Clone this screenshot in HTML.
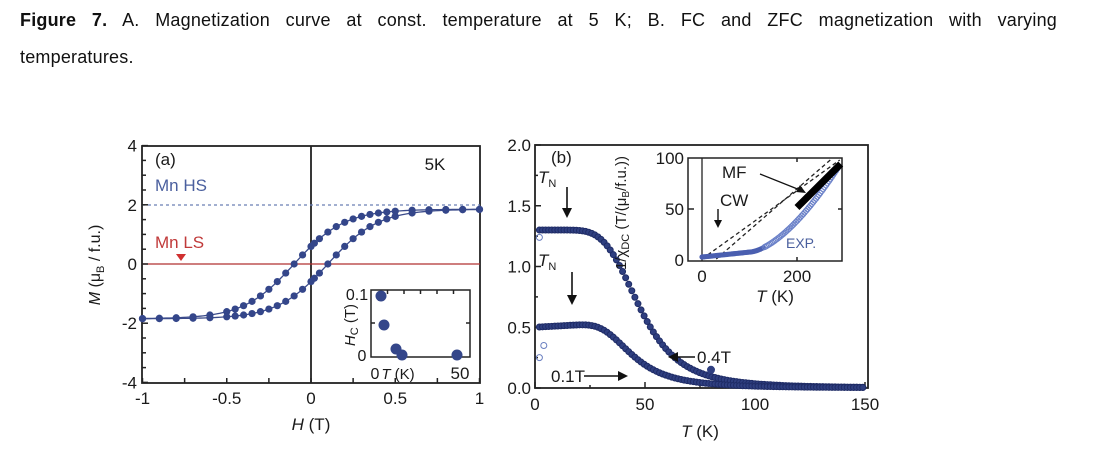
<!DOCTYPE html>
<html><head><meta charset="utf-8"><style>
body{margin:0;width:1101px;height:467px;background:#fff;overflow:hidden;position:relative;font-family:"Liberation Sans",sans-serif}
.cap{position:absolute;left:20px;width:1037px;font-size:18px;color:#111;letter-spacing:0.2px}
.l1{top:10px;text-align:justify;text-align-last:justify}
.l2{top:47px}
svg{position:absolute;left:0;top:0}
svg text{font-family:"Liberation Sans",sans-serif;fill:#1a1a1a}
</style></head><body>
<div class="cap l1"><b>Figure 7.</b> A. Magnetization curve at const. temperature at 5 K; B. FC and ZFC magnetization with varying</div>
<div class="cap l2">temperatures.</div>
<svg width="1101" height="467" id="s">
<g id="g"></g>
</svg>
<script>
const g=document.getElementById('g');let h='';
function L(x1,y1,x2,y2,c,w,d){h+=`<line x1="${x1}" y1="${y1}" x2="${x2}" y2="${y2}" stroke="${c||'#222'}" stroke-width="${w||1.5}" ${d?`stroke-dasharray="${d}"`:''}/>`}
function T(x,y,t,s,a,c,st){h+=`<text x="${x}" y="${y}" font-size="${s||16}" text-anchor="${a||'middle'}" ${c?`style="fill:${c}"`:''} ${st||''}>${t}</text>`}
function C(x,y,r,f,s){h+=`<circle cx="${x}" cy="${y}" r="${r}" fill="${f}" stroke="${s||'none'}"/>`}
// Panel a
const ax=H=>311+H*168.5, ay=M=>264-M*29.6;
h+=`<rect x="142" y="146" width="338" height="237" fill="none" stroke="#222" stroke-width="1.8"/>`;
L(311,146,311,383,'#222',1.8);
L(142,264,480,264,'#b03030',1.3);
L(142,205,480,205,'#6a7fb5',1.2,'3,3');
for(let v=-4;v<=4;v+=0.5){L(142,ay(v),v%2==0?148:146,ay(v))}
for(let v=-1;v<=1;v+=0.25){L(ax(v),383,ax(v),378)}
[[4,'4'],[2,'2'],[0,'0'],[-2,'-2'],[-4,'-4']].forEach(([v,t])=>T(137,ay(v)+6,t,17,'end'));
[[-1,'-1'],[-0.5,'-0.5'],[0,'0'],[0.5,'0.5'],[1,'1']].forEach(([v,t])=>T(ax(v),404,t,17));
T(311,430,'<tspan font-style="italic">H</tspan> (T)',17);
h+=`<text transform="translate(100,265) rotate(-90)" font-size="16" text-anchor="middle"><tspan font-style="italic">M</tspan> (μ<tspan font-size="11" dy="4">B</tspan><tspan dy="-4"> / f.u.)</tspan></text>`;
T(155,165,'(a)',17,'start');T(435,170,'5K',17,'middle');
T(155,191,'Mn HS',17,'start','#4a5f9e');T(155,248,'Mn LS',17,'start','#c03a3a');
h+=`<polygon points="176,254 186,254 181,261" fill="#d03030"/>`;
let up='',dn='';
for(let H=-1;H<=1.001;H+=0.02){up+=`${ax(H)},${ay(1.85*Math.tanh((H+0.1)/0.3))} `;dn+=`${ax(H)},${ay(1.85*Math.tanh((H-0.1)/0.3))} `}
h+=`<polyline points="${up}" fill="none" stroke="#3a4a8a" stroke-width="1.3"/><polyline points="${dn}" fill="none" stroke="#3a4a8a" stroke-width="1.3"/>`;
const hs=[-1,-0.9,-0.8,-0.7,-0.6,-0.5,-0.45,-0.4,-0.35,-0.3,-0.25,-0.2,-0.15,-0.1,-0.05,0,0.02,0.05,0.1,0.15,0.2,0.25,0.3,0.35,0.4,0.45,0.5,0.6,0.7,0.8,0.9,1];
hs.forEach(H=>{C(ax(H),ay(1.85*Math.tanh((H+0.1)/0.3)),3.6,'#34468a');C(ax(H),ay(1.85*Math.tanh((H-0.1)/0.3)),3.6,'#34468a')});
// inset a
h+=`<rect x="371" y="290" width="99" height="67" fill="#fff" stroke="#222" stroke-width="1.5"/>`;
for(let i=1;i<6;i++){L(371+i*16.5,290,371+i*16.5,294)}L(466,323,470,323);L(371,323,375,323);
T(357,300,'0.1',16);T(362,361,'0',16);T(375,379,'0',16);T(398,379,'<tspan font-style="italic">T</tspan> (K)',15);T(460,379,'50',17);
h+=`<text transform="translate(355,325) rotate(-90)" font-size="15" text-anchor="middle"><tspan font-style="italic">H</tspan><tspan font-size="11" dy="3">C</tspan><tspan dy="-3"> (T)</tspan></text>`;
[[381,296],[384,325],[396,349],[402,355],[457,355]].forEach(([x,y])=>C(x,y,5.5,'#34468a'));
// Panel b
const bx=t=>535+t*2.2, by=v=>388-v*121.5;
h+=`<rect x="535" y="145" width="333" height="243" fill="none" stroke="#222" stroke-width="1.8"/>`;
for(let v=0;v<=2;v+=0.25){L(535,by(v),v%0.5==0?541:538,by(v))}
for(let t=0;t<=150;t+=25){L(bx(t),388,bx(t),t%50==0?382:385)}
[[2,'2.0'],[1.5,'1.5'],[1,'1.0'],[0.5,'0.5'],[0,'0.0']].forEach(([v,t])=>T(531,by(v)+6,t,17,'end'));
[[0,'0'],[50,'50'],[100,'100'],[150,'150']].forEach(([v,t])=>T(bx(v),410,t,17));
T(700,437,'<tspan font-style="italic">T</tspan> (K)',17);
T(551,163,'(b)',17,'start');
T(538,183,'<tspan font-style="italic">T</tspan><tspan font-size="11" dy="4">N</tspan>',17,'start');
T(538,266,'<tspan font-style="italic">T</tspan><tspan font-size="11" dy="4">N</tspan>',17,'start');
L(567,187,567,211,'#111',1.6);h+=`<polygon points="562,208 572,208 567,218" fill="#111"/>`;
L(572,272,572,298,'#111',1.6);h+=`<polygon points="567,295 577,295 572,305" fill="#111"/>`;
for(let t=2;t<=150;t+=1.4){let a=t<12?1.3:1.3/(1+Math.pow((t-12)/36,4));let b=t<20?0.5+0.02*t/20:0.52/(1+Math.pow((t-20)/25,3));C(bx(t),by(a),3,'#2f3f80','#1f2c66');C(bx(t),by(b),3,'#2f3f80','#1f2c66');}
C(bx(2),by(1.24),3,'none','#6a7fc0');C(bx(2),by(0.25),3,'none','#6a7fc0');C(bx(4),by(0.35),3,'none','#6a7fc0');
C(bx(80),by(0.15),4,'#2f3f80');
h+=`<polygon points="668,357 678,352 678,362" fill="#111"/>`;L(678,357,695,357,'#111',1.6);T(697,363,'0.4T',17,'start');
T(551,382,'0.1T',17,'start');L(584,376,620,376,'#111',1.6);h+=`<polygon points="628,376 618,371 618,381" fill="#111"/>`;
// inset b
const ix=t=>702+t*0.475, iy=v=>259-v*0.99;
h+=`<rect x="688" y="158" width="154" height="103" fill="#fff" stroke="#222" stroke-width="1.5"/>`;
L(702,158,702,261,'#222',1.3);L(797,158,797,162);L(797,257,797,261);L(688,209,694,209);L(838,209,842,209);
T(684,164,'100',17,'end');T(684,215,'50',17,'end');T(684,266,'0',17,'end');
T(702,282,'0',17);T(797,282,'200',17);T(775,302,'<tspan font-style="italic">T</tspan> (K)',17);
h+=`<text transform="translate(626,213) rotate(-90)" font-size="15" text-anchor="middle">1/χ<tspan font-size="11" dy="3">DC</tspan><tspan dy="-3"> (T/(μ</tspan><tspan font-size="10" dy="3">B</tspan><tspan dy="-3">/f.u.))</tspan></text>`;
L(ix(0),iy(0),ix(290),iy(100),'#222',1.3,'4,3');
L(ix(30),iy(0),ix(270),iy(100),'#222',1.3,'4,3');
for(let t=0;t<=290;t+=3){let v=t<100?2+t*0.05:7+Math.pow((t-100)/190,1.6)*88;C(ix(t),iy(Math.min(v,96)),2.6,t<130?'#4a5fb0':'none',t<130?'none':'#6a80c8')}
L(ix(200),iy(52),ix(292),iy(96),'#000',7);
T(720,206,'CW',17,'start');L(718,209,718,222,'#111',1.4);h+=`<polygon points="714,220 722,220 718,228" fill="#111"/>`;
T(722,178,'MF',17,'start');L(760,174,800,190,'#111',1.3);h+=`<polygon points="806,193 796,192 800,185" fill="#111"/>`;
T(786,248,'EXP.',14,'start','#4a5f9e');
g.innerHTML=h;
</script>
</body></html>
